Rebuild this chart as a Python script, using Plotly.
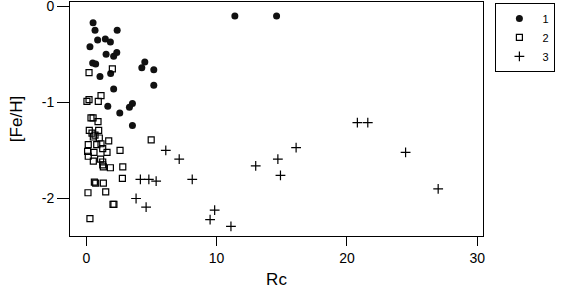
import plotly.graph_objects as go

# Group 1 (filled circles)
g1_rc = [0.52, 0.67, 2.37, 0.87, 1.46, 1.85, 0.28, 1.52, 2.10, 2.34, 0.49, 0.72, 4.49, 4.26,
         5.18, 1.05, 1.87, 2.10, 5.18, 3.54, 3.31, 1.65, 2.57, 3.54, 11.4, 14.6]
g1_feh = [-0.17, -0.25, -0.25, -0.35, -0.34, -0.37, -0.42, -0.50, -0.52, -0.48, -0.59, -0.60, -0.58, -0.64,
          -0.66, -0.73, -0.70, -0.86, -0.82, -1.01, -1.05, -1.04, -1.11, -1.24, -0.10, -0.10]

# Group 2 (open squares)
g2_rc = [0.21, 2.00, 0.21, 0.05, 1.13, 0.92, 0.36, 0.52, 0.90, 0.23, 0.95, 0.44, 0.67, 1.00, 0.54,
         1.72, 4.98, 0.15, 0.80, 1.13, 1.26, 2.59, 0.10, 0.59, 1.59, 0.15, 1.10, 0.54, 1.26, 1.26,
         1.31, 1.85, 2.80, 2.77, 0.62, 0.72, 1.31, 0.13, 1.49, 2.05, 2.12, 0.28]
g2_feh = [-0.69, -0.65, -0.97, -0.99, -0.93, -0.99, -1.16, -1.16, -1.20, -1.29, -1.29, -1.32, -1.34, -1.37, -1.36,
          -1.40, -1.39, -1.44, -1.44, -1.43, -1.48, -1.50, -1.51, -1.52, -1.52, -1.56, -1.59, -1.61, -1.62, -1.65,
          -1.67, -1.68, -1.67, -1.79, -1.83, -1.84, -1.84, -1.94, -1.93, -2.06, -2.06, -2.21]

# Group 3 (plus signs)
g3_rc = [6.1, 7.13, 4.15, 4.8, 5.36, 3.82, 4.59, 8.13, 13.0, 14.7, 16.1, 14.9, 9.85, 9.5, 11.1,
         20.8, 21.6, 24.5, 27.0]
g3_feh = [-1.50, -1.59, -1.80, -1.80, -1.82, -2.00, -2.09, -1.80, -1.66, -1.59, -1.47, -1.76, -2.12, -2.22, -2.29,
          -1.21, -1.21, -1.52, -1.90]

group_names = ["1", "2", "3"]
x_ticks = [0, 10, 20, 30]
y_ticks = [0, -1, -2]

fig = go.Figure()
fig.add_trace(go.Scatter(x=g1_rc, y=g1_feh, mode="markers", name=group_names[0],
                         marker=dict(symbol="circle", size=7, color="#111111", line=dict(width=0))))
fig.add_trace(go.Scatter(x=g2_rc, y=g2_feh, mode="markers", name=group_names[1],
                         marker=dict(symbol="square-open", size=6, color="black", line=dict(width=1.2, color="black"))))
fig.add_trace(go.Scatter(x=g3_rc, y=g3_feh, mode="markers", name=group_names[2],
                         marker=dict(symbol="cross-thin-open", size=7, color="black", line=dict(width=1.2, color="black"))))

font = "Liberation Sans, Arial, Helvetica, sans-serif"
fig.update_layout(
    width=566, height=289,
    margin=dict(l=70, r=83, t=2, b=53, autoexpand=False),
    paper_bgcolor="white", plot_bgcolor="white",
    font=dict(family=font, size=14, color="black"),
    showlegend=True,
    legend=dict(x=1.03, y=0.996, xanchor="left", yanchor="top",
                bordercolor="black", borderwidth=1, bgcolor="white",
                font=dict(size=11, color="black"), itemwidth=36, tracegroupgap=0),
    xaxis=dict(range=[-1.25, 30.44], tickvals=x_ticks, ticktext=[str(v) for v in x_ticks],
               showgrid=False, zeroline=False, showline=True, linecolor="black", linewidth=1,
               mirror=True, ticks="outside", ticklen=9, tickcolor="black", automargin=True,
               ticklabeloverflow="allow",
               title=dict(text="Rc", standoff=8, font=dict(color="black"))),
    yaxis=dict(range=[-2.39, 0.045], tickvals=y_ticks, ticktext=[str(v) for v in y_ticks],
               showgrid=False, zeroline=False, showline=True, linecolor="black", linewidth=1,
               mirror=True, ticks="outside", ticklen=12, tickcolor="black", automargin=True,
               ticklabeloverflow="allow",
               title=dict(text="[Fe/H]", standoff=14, font=dict(color="black"))),
)
fig.write_html("out.html", config={"displayModeBar": False},
               post_script="document.body.style.margin='0';document.body.style.padding='0';")
